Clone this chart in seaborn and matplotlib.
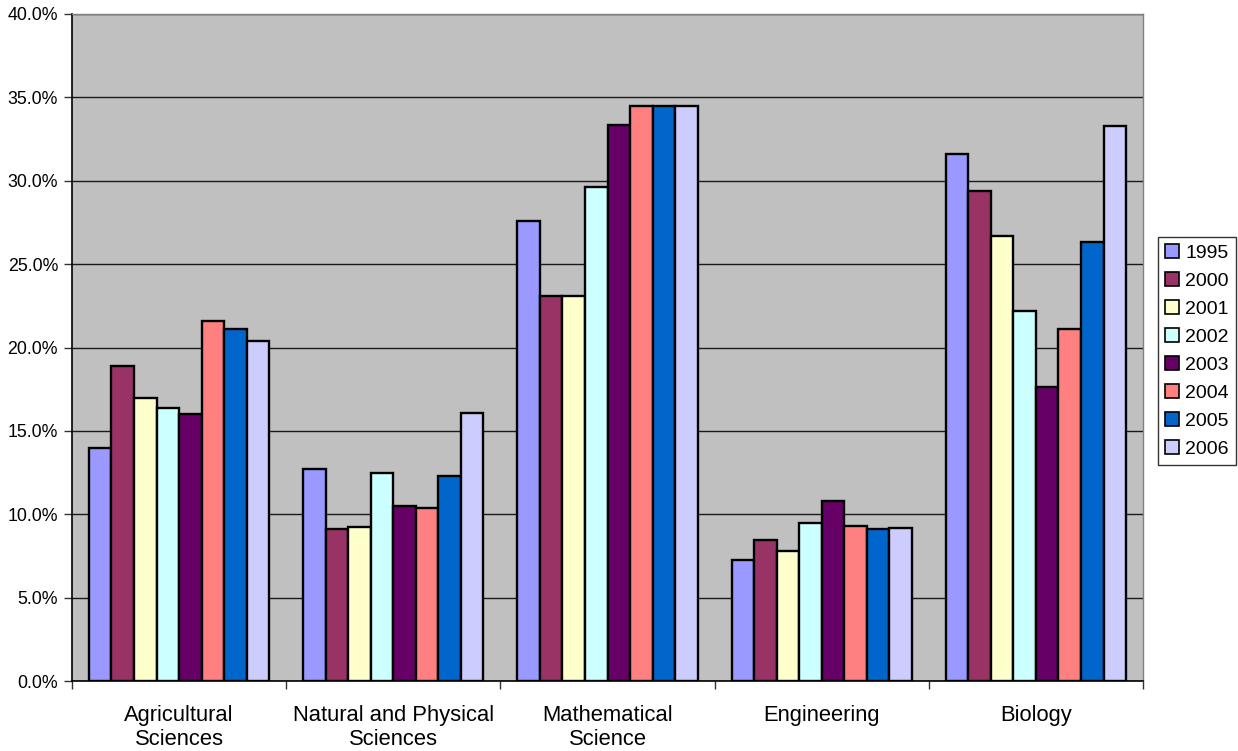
import matplotlib
matplotlib.use("Agg")
import matplotlib.pyplot as plt
import matplotlib.ticker as mticker
from matplotlib.patches import Patch
import seaborn as sns
import pandas as pd

categories = ["Agricultural\nSciences", "Natural and Physical\nSciences",
              "Mathematical\nScience", "Engineering", "Biology"]
years = ["1995", "2000", "2001", "2002", "2003", "2004", "2005", "2006"]
values = {
    "1995": [14.0, 12.7, 27.6, 7.25, 31.6],
    "2000": [18.9, 9.1, 23.1, 8.45, 29.4],
    "2001": [17.0, 9.25, 23.1, 7.8, 26.7],
    "2002": [16.35, 12.5, 29.65, 9.45, 22.2],
    "2003": [16.0, 10.5, 33.35, 10.8, 17.65],
    "2004": [21.6, 10.35, 34.5, 9.3, 21.1],
    "2005": [21.1, 12.3, 34.5, 9.1, 26.3],
    "2006": [20.4, 16.1, 34.5, 9.2, 33.3],
}
colors = ["#9999FF", "#993366", "#FFFFCC", "#CCFFFF", "#660066",
          "#FF8080", "#0066CC", "#CCCCFF"]

rows = []
for y in years:
    for c, v in zip(categories, values[y]):
        rows.append({"category": c, "year": y, "value": v / 100.0})
df = pd.DataFrame(rows)

sns.set_theme(style="white")
plt.rcParams["font.family"] = ["Liberation Sans", "DejaVu Sans"]
plt.rcParams["text.color"] = "black"
plt.rcParams["xtick.color"] = "black"
plt.rcParams["ytick.color"] = "black"

fig = plt.figure(figsize=(12.38, 7.51), dpi=100)
ax = fig.add_axes([72 / 1238, 1 - 681 / 751, (1143 - 72) / 1238, (681 - 14) / 751])
ax.set_facecolor("#C0C0C0")

sns.barplot(data=df, x="category", y="value", hue="year", order=categories,
            hue_order=years, palette=colors, saturation=1, width=8 / 9.5,
            edgecolor="black", linewidth=1.7, errorbar=None, ax=ax, legend=False,
            zorder=3)

ax.set_ylim(0, 0.40)
ax.set_xlim(-0.5, len(categories) - 0.5)
ax.yaxis.set_major_locator(mticker.MultipleLocator(0.05))
ax.yaxis.set_major_formatter(mticker.FuncFormatter(lambda v, p: f"{v * 100:.1f}%"))
ax.grid(axis="y", color="#1a1a1a", linewidth=1.0, zorder=1)
ax.set_axisbelow(True)
ax.set_xlabel("")
ax.set_ylabel("")

ax.tick_params(axis="y", which="major", direction="out", length=6, width=1,
               color="#333333", labelsize=12.8, pad=4, left=True,
               labelcolor="black")
ax.tick_params(axis="x", which="major", length=0, labelsize=15.8, pad=17,
               labelcolor="black")
ax.set_xticks(range(len(categories)))
ax.set_xticklabels(categories, linespacing=1.2)
ax.set_xticks([i - 0.5 for i in range(len(categories) + 1)], minor=True)
ax.tick_params(axis="x", which="minor", direction="out", length=6, width=1,
               color="#333333", bottom=True)

for s in ["left", "bottom"]:
    ax.spines[s].set_color("black")
    ax.spines[s].set_linewidth(1.2)
for s in ["top", "right"]:
    ax.spines[s].set_color("#808080")
    ax.spines[s].set_linewidth(1.0)

handles = [Patch(facecolor=c, edgecolor="black", linewidth=1.2, label=y)
           for c, y in zip(colors, years)]
leg = fig.legend(handles=handles, loc="upper left",
                 bbox_to_anchor=(1158 / 1238, 1 - 237 / 751),
                 bbox_transform=fig.transFigure, frameon=True, fancybox=False,
                 fontsize=14, handlelength=0.75, handleheight=0.75,
                 handletextpad=0.3, labelspacing=0.52, borderpad=0.35,
                 borderaxespad=0)
leg.get_frame().set_edgecolor("black")
leg.get_frame().set_linewidth(1.0)
leg.get_frame().set_facecolor("white")

fig.savefig("out.png", dpi=100, facecolor="white")
